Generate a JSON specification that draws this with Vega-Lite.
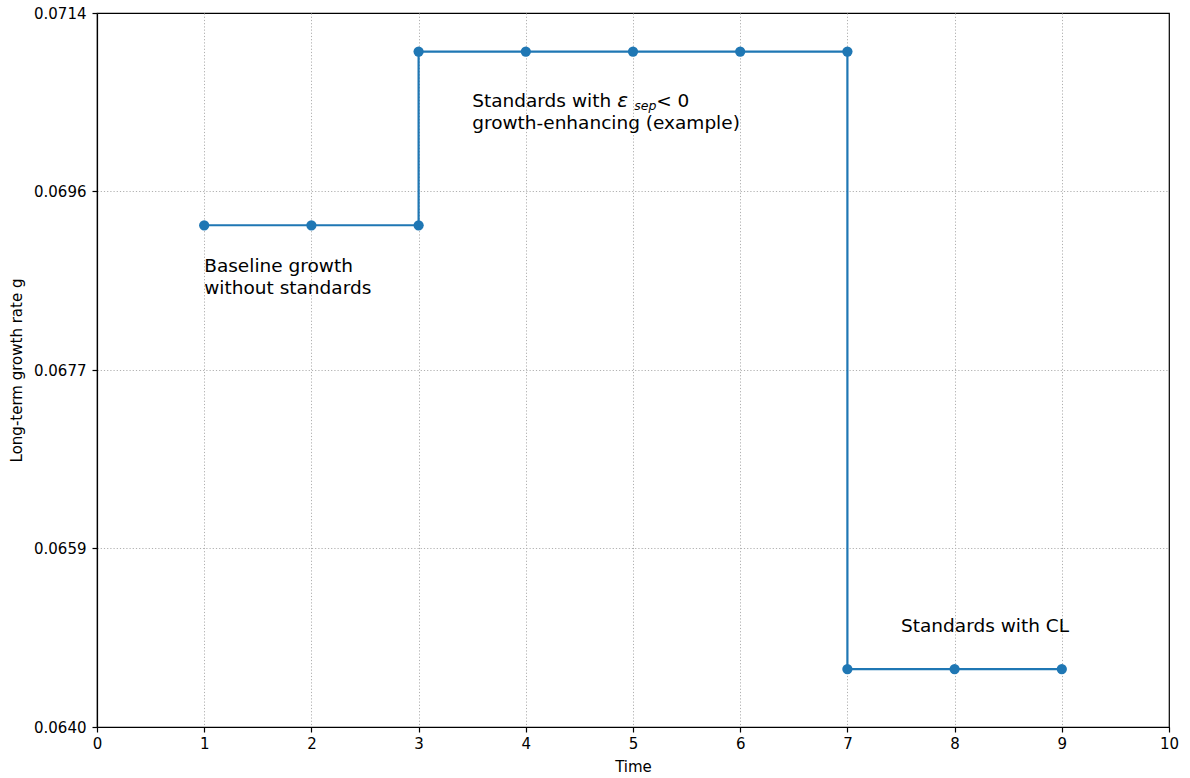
{
  "$schema": "https://vega.github.io/schema/vega-lite/v6.json",
  "width": 1072,
  "height": 714,
  "autosize": {"type": "none"},
  "padding": {"left": 97, "top": 13, "right": 21, "bottom": 51},
  "background": "white",
  "config": {
    "font": "DejaVu Sans",
    "view": {"stroke": "black", "strokeWidth": 1.2},
    "axis": {
      "labelFont": "DejaVu Sans",
      "titleFont": "DejaVu Sans",
      "labelFontSize": 15,
      "titleFontSize": 15,
      "titleFontWeight": "normal",
      "labelColor": "black",
      "titleColor": "black",
      "domainColor": "black",
      "domainWidth": 1.2,
      "tickColor": "black",
      "tickSize": 5,
      "tickWidth": 1.2,
      "gridColor": "#b0b0b0",
      "gridDash": [1.2, 2],
      "gridWidth": 1,
      "labelPadding": 5,
      "labelFlush": false
    }
  },
  "datasets": {
    "series": [
      {"i": 1, "time": 1, "g": 0.0692},
      {"i": 2, "time": 2, "g": 0.0692},
      {"i": 3, "time": 3, "g": 0.0692},
      {"i": 4, "time": 3, "g": 0.0710},
      {"i": 5, "time": 4, "g": 0.0710},
      {"i": 6, "time": 5, "g": 0.0710},
      {"i": 7, "time": 6, "g": 0.0710},
      {"i": 8, "time": 7, "g": 0.0710},
      {"i": 9, "time": 7, "g": 0.0646},
      {"i": 10, "time": 8, "g": 0.0646},
      {"i": 11, "time": 9, "g": 0.0646}
    ],
    "notes": [
      {"time": 1, "g": 0.06887, "part": "main", "label": "Baseline growth\nwithout standards"},
      {"time": 3.5, "g": 0.07058, "part": "main", "label": "Standards with\ngrowth-enhancing (example)"},
      {"time": 7.5, "g": 0.06514, "part": "main", "label": "Standards with CL"},
      {"time": 3.5, "g": 0.07058, "part": "eps", "label": "ε"},
      {"time": 3.5, "g": 0.07058, "part": "sub", "label": "sep"},
      {"time": 3.5, "g": 0.07058, "part": "lt", "label": "< 0"}
    ]
  },
  "encoding": {
    "x": {
      "field": "time",
      "type": "quantitative",
      "scale": {"domain": [0, 10], "nice": false, "zero": false},
      "axis": {
        "values": [0,1,2,3,4,5,6,7,8,9,10],
        "format": "d",
        "title": "Time",
        "titlePadding": 8,
        "labelPadding": 4,
        "gridOpacity": {"condition": {"test": "datum.value >= 10", "value": 0}, "value": 1}
      }
    },
    "y": {
      "field": "g",
      "type": "quantitative",
      "scale": {"domain": [0.0640, 0.0714], "nice": false, "zero": false},
      "axis": {
        "values": [0.0640, 0.065851, 0.0677, 0.069551, 0.0714],
        "format": ".4f",
        "title": "Long-term growth rate g",
        "titleX": -76,
        "titleBaseline": "alphabetic",
        "labelPadding": 6,
        "gridOpacity": {"condition": {"test": "datum.value >= 0.07139", "value": 0}, "value": 1}
      }
    }
  },
  "layer": [
    {
      "data": {"name": "series"},
      "mark": {"type": "line", "color": "#1f77b4", "strokeWidth": 2.2},
      "encoding": {"order": {"field": "i", "type": "quantitative"}}
    },
    {
      "data": {"name": "series"},
      "mark": {"type": "point", "filled": true, "color": "#1f77b4", "size": 105, "opacity": 1}
    },
    {
      "data": {"name": "notes"},
      "transform": [{"filter": "datum.part === 'main'"}],
      "mark": {"type": "text", "align": "left", "baseline": "top", "fontSize": 18.5, "lineBreak": "\n", "lineHeight": 22, "color": "black"},
      "encoding": {"text": {"field": "label"}}
    },
    {
      "data": {"name": "notes"},
      "transform": [{"filter": "datum.part === 'eps'"}],
      "mark": {"type": "text", "align": "left", "baseline": "top", "fontSize": 20, "fontStyle": "italic", "dx": 145, "dy": -1, "color": "black"},
      "encoding": {"text": {"field": "label"}}
    },
    {
      "data": {"name": "notes"},
      "transform": [{"filter": "datum.part === 'sub'"}],
      "mark": {"type": "text", "align": "left", "baseline": "top", "fontSize": 12.5, "fontStyle": "italic", "dx": 162, "dy": 8, "color": "black"},
      "encoding": {"text": {"field": "label"}}
    },
    {
      "data": {"name": "notes"},
      "transform": [{"filter": "datum.part === 'lt'"}],
      "mark": {"type": "text", "align": "left", "baseline": "top", "fontSize": 18.5, "dx": 184, "color": "black"},
      "encoding": {"text": {"field": "label"}}
    }
  ]
}
